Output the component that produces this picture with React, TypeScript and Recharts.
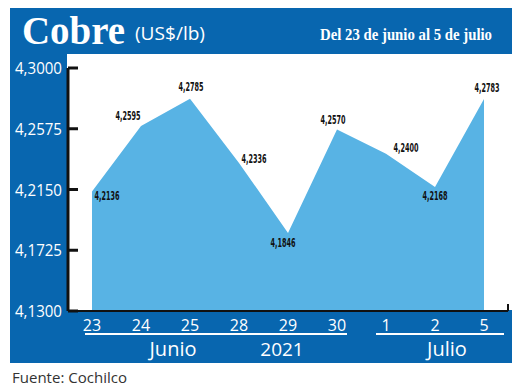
import React from 'react';
import { AreaChart, Area, XAxis, YAxis, LabelList } from 'recharts';

const days = ['23', '24', '25', '28', '29', '30', '1', '2', '5'];
const prices = [4.2136, 4.2595, 4.2785, 4.2336, 4.1846, 4.257, 4.24, 4.2168, 4.2783];
const yTicks = [4.13, 4.1725, 4.215, 4.2575, 4.3];
const title = 'Cobre';
const unit = '(US$/lb)';
const period = 'Del 23 de junio al 5 de julio';
const monthJune = 'Junio';
const yearLabel = '2021';
const monthJuly = 'Julio';
const source = 'Fuente: Cochilco';

const data = days.map((d, i) => ({ day: d, price: prices[i] }));

const BLUE = '#0866af';
const AREA = '#58b3e4';

const fmt = (v: number) => v.toFixed(4).replace('.', ',');

const labelOffsets: [number, number][] = [
  [15, 4], [-13, -10], [1, -12], [15, -4], [-5, 9], [-4, -10], [20, -6], [0, 9], [3, -12],
];

const YTick = (props: any) => {
  const { x, y, payload } = props;
  return (
    <g>
      <line x1={x + 6} x2={x + 16} y1={y} y2={y} stroke="#111" strokeWidth={3} />
      <text
        x={x}
        y={y}
        dy="0.36em"
        textAnchor="end"
        fill="#fff"
        fontSize={17}
        fontFamily="'Open Sans', sans-serif"
        textLength={47}
        lengthAdjust="spacingAndGlyphs"
      >
        {fmt(payload.value)}
      </text>
    </g>
  );
};

const XTick = (props: any) => {
  const { x, y, payload } = props;
  return (
    <text
      x={x}
      y={y}
      dy="0.85em"
      textAnchor="middle"
      fill="#fff"
      fontSize={16}
      fontFamily="'Open Sans', sans-serif"
    >
      {payload.value}
    </text>
  );
};

const PointLabel = (props: any) => {
  const { x, y, value, index } = props;
  const [dx, dy] = labelOffsets[index] || [0, -10];
  return (
    <text
      x={x + dx}
      y={y + dy}
      dy="0.35em"
      textAnchor="middle"
      fill="#111"
      fontSize={13}
      fontWeight="bold"
      fontFamily="'Liberation Sans Narrow', 'DejaVu Sans Condensed', sans-serif"
      textLength={25}
      lengthAdjust="spacingAndGlyphs"
    >
      {fmt(value)}
    </text>
  );
};

export default function App() {
  return (
    <div style={{ position: 'absolute', left: 0, top: 0, width: 520, height: 390, background: '#fff' }}>
      <div style={{ position: 'absolute', left: 10, top: 8, width: 502, height: 355, background: BLUE }} />
      <div style={{ position: 'absolute', left: 67, top: 54, width: 445, height: 256, background: '#fff' }} />
      <div style={{ position: 'absolute', left: 0, top: 0 }}>
        <AreaChart width={520} height={390} data={data} margin={{ top: 68, right: 12, bottom: 49, left: 8 }}>
          <YAxis
            width={60}
            domain={[4.13, 4.3]}
            ticks={yTicks}
            type="number"
            allowDataOverflow
            tickLine={false}
            tickSize={0}
            tickMargin={6}
            axisLine={{ stroke: '#111', strokeWidth: 3 }}
            tick={<YTick />}
            interval={0}
          />
          <XAxis
            dataKey="day"
            height={30}
            padding={{ left: 24, right: 24 }}
            tickLine={false}
            tickSize={0}
            tickMargin={6}
            axisLine={{ stroke: '#111', strokeWidth: 2 }}
            tick={<XTick />}
            interval={0}
          />
          <Area
            type="linear"
            dataKey="price"
            stroke="none"
            fill={AREA}
            fillOpacity={1}
            isAnimationActive={false}
            dot={false}
            activeDot={false}
          >
            <LabelList dataKey="price" content={<PointLabel />} />
          </Area>
        </AreaChart>
      </div>
      <svg width={520} height={390} style={{ position: 'absolute', left: 0, top: 0, pointerEvents: 'none' }}>
        <text x={22} y={44} fill="#fff" fontSize={40} fontWeight="bold" fontFamily="'Liberation Serif', serif" textLength={103} lengthAdjust="spacingAndGlyphs">
          {title}
        </text>
        <text x={135} y={40} fill="#fff" fontSize={19} fontFamily="'Open Sans', sans-serif" textLength={70} lengthAdjust="spacingAndGlyphs">
          {unit}
        </text>
        <text x={320} y={40} fill="#fff" fontSize={17} fontWeight="bold" fontFamily="'Liberation Serif', serif" textLength={172} lengthAdjust="spacingAndGlyphs">
          {period}
        </text>
        <line x1={85} x2={347} y1={334} y2={334} stroke="#fff" strokeWidth={2} />
        <line x1={376} x2={504} y1={334} y2={334} stroke="#fff" strokeWidth={2} />
        <line x1={508} x2={508} y1={304} y2={311} stroke="#111" strokeWidth={2} />
        <text x={173} y={356} textAnchor="middle" fill="#fff" fontSize={20} fontFamily="'Open Sans', sans-serif">
          {monthJune}
        </text>
        <text x={282} y={356} textAnchor="middle" fill="#fff" fontSize={19} fontFamily="'Open Sans', sans-serif">
          {yearLabel}
        </text>
        <text x={447} y={356} textAnchor="middle" fill="#fff" fontSize={20} fontFamily="'Open Sans', sans-serif">
          {monthJuly}
        </text>
        <text x={12} y={383} fill="#333" fontSize={15} fontFamily="'Open Sans', sans-serif" textLength={115} lengthAdjust="spacingAndGlyphs">
          {source}
        </text>
      </svg>
    </div>
  );
}
